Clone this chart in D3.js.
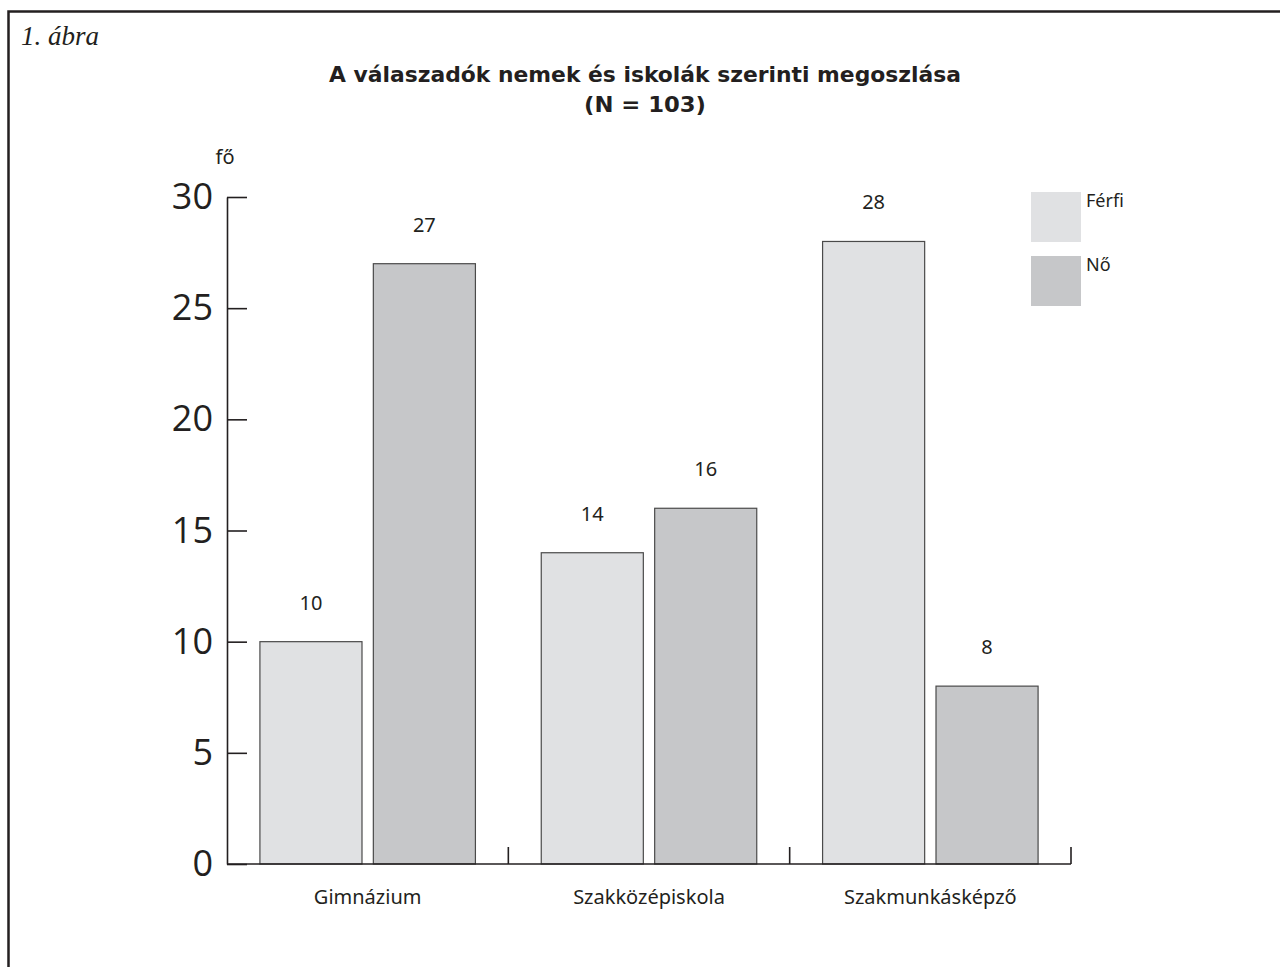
<!DOCTYPE html>
<html>
<head>
<meta charset="utf-8">
<script src="https://cdn.jsdelivr.net/npm/d3@7"></script>
<style>
  html, body { margin: 0; padding: 0; background: #fff; }
  svg { display: block; }
</style>
</head>
<body>
<svg id="chart" width="1280" height="967"></svg>
<script>
// Respondents by school type and gender
const categories = ["Gimnázium", "Szakközépiskola", "Szakmunkásképző"];
const series = ["Férfi", "Nő"];
const ferfiValues = [10, 14, 28];
const noValues = [27, 16, 8];
const yTicks = [0, 5, 10, 15, 20, 25, 30];

const colors = { "Férfi": "#e0e1e3", "Nő": "#c6c7c9" };
const ink = "#231f20";

const rows = categories.map((c, i) => ({
  category: c,
  values: [
    { key: "Férfi", value: ferfiValues[i] },
    { key: "Nő", value: noValues[i] }
  ]
}));

const svg = d3.select("#chart");

// outer frame
svg.append("rect")
  .attr("x", 8.5).attr("y", 11.5)
  .attr("width", 1300).attr("height", 1000)
  .attr("fill", "none").attr("stroke", ink).attr("stroke-width", 2.5);

svg.append("text")
  .attr("x", 21).attr("y", 45)
  .attr("font-family", "Liberation Serif, serif")
  .attr("font-style", "italic")
  .attr("font-size", 27)
  .attr("fill", ink)
  .text("1. ábra");

const title = svg.append("text")
  .attr("text-anchor", "middle")
  .attr("font-family", "DejaVu Sans, sans-serif")
  .attr("font-weight", "bold")
  .attr("font-size", 21)
  .attr("fill", ink);
title.append("tspan").attr("x", 645).attr("y", 82)
  .attr("textLength", 632).attr("lengthAdjust", "spacingAndGlyphs")
  .text("A válaszadók nemek és iskolák szerinti megoszlása");
title.append("tspan").attr("x", 645).attr("y", 112)
  .attr("textLength", 122).attr("lengthAdjust", "spacingAndGlyphs")
  .text("(N = 103)");

// scales
const x0 = d3.scaleBand().domain(categories).range([227, 1071]).padding(0);
const bw = x0.bandwidth();
const x1 = d3.scaleBand().domain(series)
  .range([bw * 0.117, bw * 0.883]).paddingInner(0.1);
const y = d3.scaleLinear().domain([0, 30]).range([864, 197]);

// y axis: ticks pointing inward, labels on the left
const yAxis = svg.append("g")
  .attr("transform", "translate(227,0)")
  .call(d3.axisLeft(y).tickValues(yTicks).tickSize(-20).tickSizeOuter(0).tickPadding(14));
yAxis.select(".domain").attr("stroke", ink).attr("stroke-width", 1.6);
yAxis.selectAll(".tick line").attr("stroke", ink).attr("stroke-width", 1.6);
yAxis.selectAll(".tick text")
  .attr("font-family", "Open Sans, sans-serif")
  .attr("font-size", 36)
  .attr("fill", ink);

svg.append("text")
  .attr("x", 225).attr("y", 164)
  .attr("text-anchor", "middle")
  .attr("font-family", "Noto Sans, sans-serif")
  .attr("font-size", 20)
  .attr("fill", ink)
  .text("fő");

// bars
const groups = svg.append("g").selectAll("g")
  .data(rows).join("g")
  .attr("transform", d => `translate(${x0(d.category)},0)`);

groups.selectAll("rect")
  .data(d => d.values).join("rect")
  .attr("x", d => x1(d.key))
  .attr("y", d => y(d.value))
  .attr("width", x1.bandwidth())
  .attr("height", d => y(0) - y(d.value))
  .attr("fill", d => colors[d.key])
  .attr("stroke", "#4a4a4a")
  .attr("stroke-width", 1.2);

groups.selectAll("text.value")
  .data(d => d.values).join("text")
  .attr("class", "value")
  .attr("x", d => x1(d.key) + x1.bandwidth() / 2)
  .attr("y", d => y(d.value) - 32)
  .attr("text-anchor", "middle")
  .attr("font-family", "Noto Sans, sans-serif")
  .attr("font-size", 20)
  .attr("fill", ink)
  .text(d => d.value);

// x axis baseline with ticks at category boundaries
svg.append("line")
  .attr("x1", 227).attr("x2", 1071)
  .attr("y1", y(0)).attr("y2", y(0))
  .attr("stroke", ink).attr("stroke-width", 1.6);

const bounds = categories.map(c => x0(c) + bw);
svg.append("g").selectAll("line")
  .data(bounds).join("line")
  .attr("x1", d => d).attr("x2", d => d)
  .attr("y1", y(0)).attr("y2", y(0) - 17)
  .attr("stroke", ink).attr("stroke-width", 1.6);

svg.append("g").selectAll("text")
  .data(categories).join("text")
  .attr("x", d => x0(d) + bw / 2)
  .attr("y", 904)
  .attr("text-anchor", "middle")
  .attr("font-family", "Noto Sans, sans-serif")
  .attr("font-size", 20)
  .attr("fill", ink)
  .text(d => d);

// legend
const legend = svg.append("g").selectAll("g")
  .data(series).join("g")
  .attr("transform", (d, i) => `translate(1031,${192 + i * 64})`);
legend.append("rect")
  .attr("width", 50).attr("height", 50)
  .attr("fill", d => colors[d]);
legend.append("text")
  .attr("x", 55).attr("y", 15)
  .attr("font-family", "Noto Sans, sans-serif")
  .attr("font-size", 18)
  .attr("fill", ink)
  .text(d => d);
</script>
</body>
</html>
